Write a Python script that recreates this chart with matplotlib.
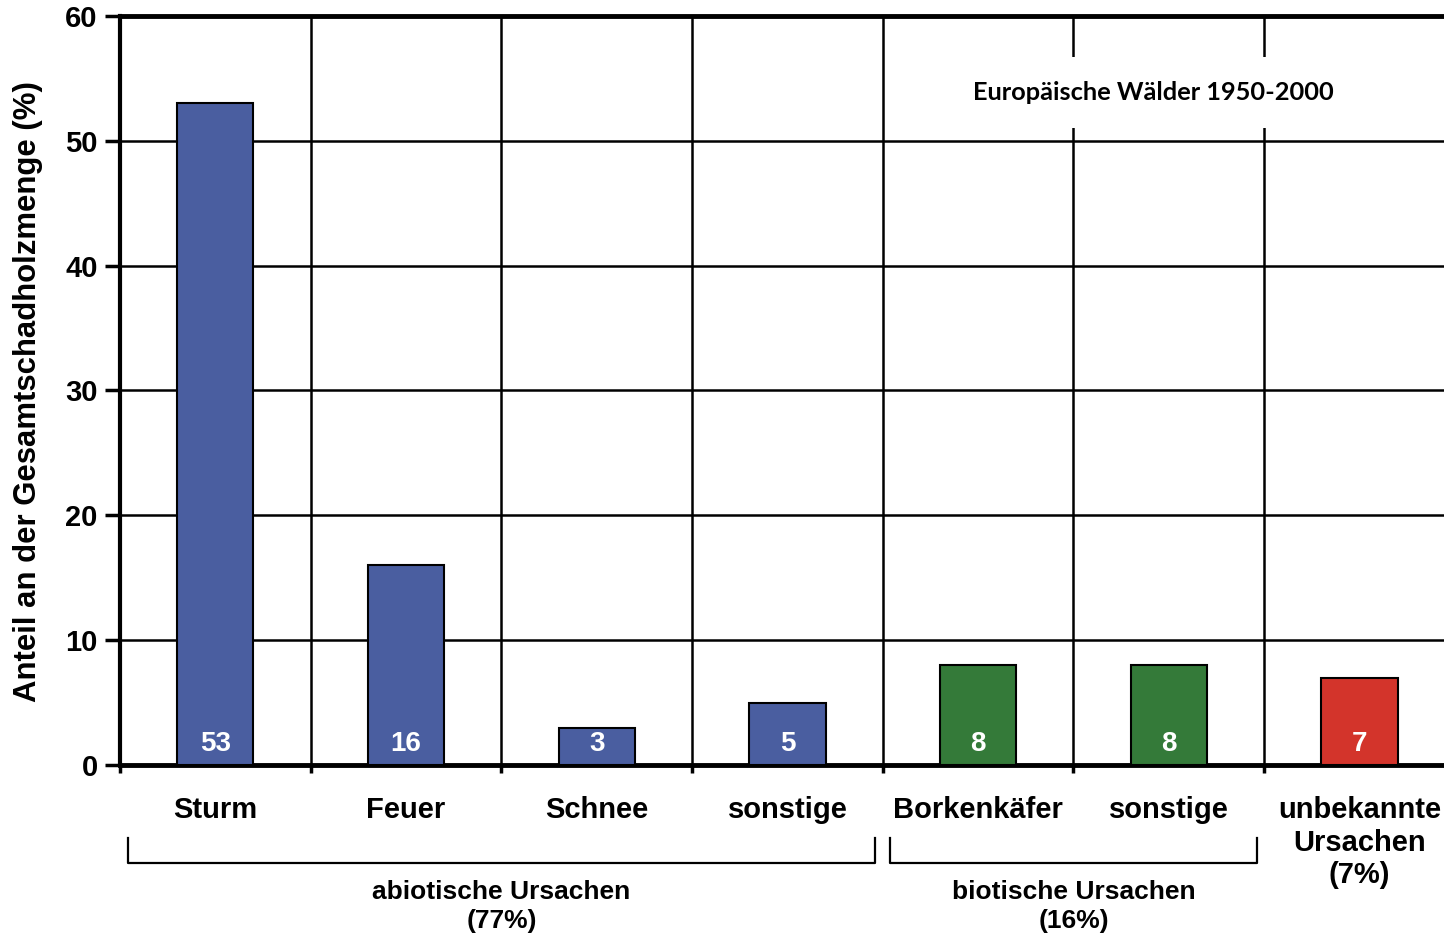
#!/usr/bin/env python3
"""Schadholz-Anteile nach Ursache als Balkendiagramm"""
import matplotlib
matplotlib.use('Agg')
import matplotlib.pyplot as plt
import matplotlib.transforms as mtransforms

plt.rcParams['font.family'] = ['Liberation Sans', 'DejaVu Sans']
plt.rcParams['font.weight'] = 'bold'

# Daten
ursachen = ['Sturm', 'Feuer', 'Schnee', 'sonstige', 'Borkenkäfer', 'sonstige',
            'unbekannte\nUrsachen\n(7%)']
anteile = [53, 16, 3, 5, 8, 8, 7]
farben = ['#4A5EA0', '#4A5EA0', '#4A5EA0', '#4A5EA0', '#347A39', '#347A39', '#D3342B']
gruppen = ['abiotische Ursachen\n(77%)', 'biotische Ursachen\n(16%)']
gruppen_bereich = [(0, 3), (4, 5)]
titel = 'Europäische Wälder 1950-2000'
y_label = 'Anteil an der Gesamtschadholzmenge (%)'

fig = plt.figure(figsize=(14.44, 9.36), dpi=100)
ax = fig.add_axes([0.0831, 0.1827, 0.9169, 0.8002])

x = list(range(len(anteile)))
ax.bar(x, anteile, width=0.4, color=farben, edgecolor='black', linewidth=1.5, zorder=3)

# Werte in die Balken schreiben
for xi, v in zip(x, anteile):
    ax.text(xi, 1.7, str(v), ha='center', va='center', color='white',
            fontsize=20, fontweight='bold', zorder=4)

ax.set_xlim(-0.5, 6.443)
ax.set_ylim(0, 60)

# Achsen und Gitter
ax.set_yticks(range(0, 61, 10))
ax.tick_params(axis='y', which='major', direction='out', length=11, width=2.5,
               labelsize=21, pad=5)
grenzen = [i - 0.5 for i in range(len(anteile))]
ax.set_xticks(grenzen)
ax.set_xticklabels([''] * len(grenzen))
ax.tick_params(axis='x', which='major', direction='out', length=6, width=2.5)
ax.set_xticks(x, minor=True)
labels = ax.set_xticklabels(ursachen, minor=True, fontsize=21, fontweight='bold')
for lbl in labels:
    lbl.set_linespacing(1.2)
ax.tick_params(axis='x', which='minor', length=0, pad=22.5)

ax.grid(True, which='major', color='black', linewidth=1.8)
ax.set_axisbelow(True)

ax.spines['right'].set_visible(False)
ax.spines['left'].set_linewidth(3)
ax.spines['bottom'].set_linewidth(3.5)
ax.spines['top'].set_linewidth(3.5)

# Titel mit weißem Hintergrund über dem Gitter
ax.text(4.917, 53.9, titel, ha='center', va='center', fontsize=18.3,
        fontweight='bold', family=['Lato', 'DejaVu Sans'], zorder=5,
        bbox=dict(boxstyle='square,pad=0.95', fc='white', ec='none'))

# Klammern für die Ursachengruppen
trans = mtransforms.blended_transform_factory(ax.transData, ax.transAxes)
y_oben, y_unten = -0.0975, -0.131
for (a, b), name in zip(gruppen_bereich, gruppen):
    x0, x1 = a - 0.46, b + 0.46
    ax.plot([x0, x0, x1, x1], [y_oben, y_unten, y_unten, y_oben], color='black',
            linewidth=1.6, transform=trans, clip_on=False)
    ax.text((a + b) / 2, y_unten - 0.022, name, ha='center', va='top',
            fontsize=19, fontweight='bold', transform=trans, linespacing=1.3)

fig.text(28 / 1444, 1 - 392 / 936, y_label, rotation=90, ha='center', va='center',
         fontsize=22.4, fontweight='bold')

plt.savefig('out.png', dpi=100, facecolor='white')
plt.close()
